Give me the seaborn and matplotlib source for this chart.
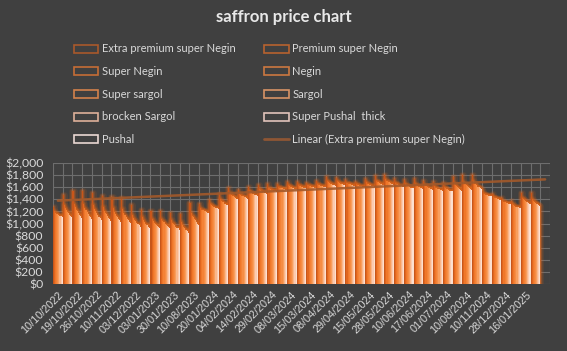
import numpy as np
import pandas as pd
import matplotlib
matplotlib.use("Agg")
import matplotlib.pyplot as plt
from matplotlib.patches import Patch
from matplotlib.lines import Line2D
import seaborn as sns

# labels shown on every second category
tick_labels = ['10/10/2022', '19/10/2022', '26/10/2022', '10/11/2022', '03/12/2022',
               '03/01/2023', '30/01/2023', '10/08/2023', '20/01/2024', '04/02/2024',
               '14/02/2024', '29/02/2024', '08/03/2024', '15/03/2024', '08/04/2024',
               '29/04/2024', '15/05/2024', '28/05/2024', '10/06/2024', '17/06/2024',
               '01/07/2024', '10/08/2024', '10/11/2024', '28/12/2024', '16/01/2025']

grades = ['Extra premium super Negin', 'Premium super Negin', 'Super Negin', 'Negin',
          'Super sargol', 'Sargol', 'brocken Sargol', 'Super Pushal  thick', 'Pushal']

extra_premium_super_negin = [1270, 1470, 1530, 1530, 1500, 1460, 1440, 1420, 1300, 1230,
                             1200, 1210, 1180, 1150, 1340, 1320, 1390, 1480, 1580, 1560,
                             1600, 1630, 1650, 1660, 1680, 1690, 1670, 1700, 1770, 1750,
                             1720, 1690, 1740, 1780, 1800, 1740, 1720, 1730, 1700, 1680,
                             1670, 1770, 1800, 1800, 1530, 1480, 1420, 1370, 1500, 1500]
premium_super_negin = [1200, 1300, 1330, 1320, 1300, 1270, 1250, 1240, 1140, 1100,
                       1080, 1080, 1050, 1020, 1180, 1250, 1320, 1400, 1500, 1490,
                       1540, 1570, 1590, 1610, 1630, 1640, 1635, 1655, 1700, 1695,
                       1675, 1650, 1680, 1710, 1730, 1675, 1655, 1660, 1635, 1615,
                       1605, 1670, 1690, 1695, 1495, 1440, 1375, 1315, 1425, 1405]
super_negin = [1180, 1250, 1270, 1260, 1240, 1210, 1190, 1170, 1090, 1050,
               1040, 1040, 1010, 970, 1120, 1230, 1300, 1370, 1470, 1470,
               1520, 1550, 1570, 1595, 1615, 1625, 1620, 1640, 1680, 1680,
               1660, 1635, 1660, 1690, 1705, 1655, 1635, 1635, 1615, 1595,
               1585, 1630, 1655, 1660, 1480, 1425, 1360, 1300, 1400, 1375]
negin = [1160, 1220, 1230, 1220, 1200, 1170, 1150, 1140, 1060, 1030,
         1010, 1020, 990, 950, 1100, 1220, 1290, 1360, 1460, 1460,
         1505, 1535, 1560, 1585, 1605, 1615, 1615, 1630, 1670, 1670,
         1650, 1630, 1650, 1680, 1690, 1645, 1625, 1620, 1605, 1585,
         1575, 1615, 1635, 1645, 1475, 1420, 1350, 1290, 1385, 1355]
super_sargol = [1150, 1190, 1200, 1190, 1170, 1150, 1130, 1110, 1040, 1000,
                990, 1000, 970, 930, 1070, 1210, 1280, 1350, 1450, 1450,
                1495, 1525, 1550, 1580, 1600, 1610, 1610, 1625, 1660, 1660,
                1645, 1620, 1640, 1670, 1680, 1635, 1615, 1610, 1595, 1575,
                1565, 1600, 1620, 1630, 1470, 1415, 1345, 1280, 1375, 1345]
sargol = [1140, 1170, 1170, 1160, 1140, 1120, 1100, 1080, 1010, 980,
          970, 980, 950, 900, 1050, 1200, 1270, 1330, 1430, 1440,
          1485, 1515, 1540, 1570, 1590, 1600, 1605, 1620, 1650, 1650,
          1640, 1615, 1635, 1660, 1670, 1625, 1605, 1600, 1585, 1565,
          1555, 1580, 1605, 1610, 1465, 1405, 1340, 1270, 1360, 1330]
brocken_sargol = [1130, 1140, 1140, 1130, 1110, 1090, 1070, 1060, 990, 970,
                  960, 960, 930, 890, 1020, 1190, 1260, 1320, 1420, 1430,
                  1475, 1505, 1535, 1565, 1585, 1595, 1600, 1610, 1640, 1645,
                  1630, 1610, 1625, 1650, 1660, 1615, 1595, 1590, 1575, 1555,
                  1545, 1570, 1590, 1600, 1460, 1400, 1330, 1265, 1350, 1315]
super_pushal_thick = [1120, 1120, 1120, 1100, 1090, 1070, 1050, 1030, 970, 950,
                      940, 940, 920, 870, 1000, 1180, 1250, 1310, 1410, 1420,
                      1470, 1500, 1530, 1555, 1575, 1585, 1595, 1605, 1630, 1635,
                      1625, 1605, 1615, 1640, 1650, 1610, 1590, 1580, 1570, 1550,
                      1540, 1555, 1575, 1585, 1455, 1395, 1325, 1255, 1340, 1300]
pushal = [1110, 1100, 1090, 1080, 1060, 1040, 1020, 1010, 950, 930,
          920, 920, 900, 850, 980, 1170, 1240, 1300, 1400, 1410,
          1460, 1490, 1520, 1550, 1570, 1580, 1590, 1600, 1620, 1630,
          1620, 1600, 1610, 1630, 1640, 1600, 1580, 1570, 1560, 1540,
          1530, 1540, 1560, 1570, 1450, 1390, 1320, 1250, 1330, 1290]

series = [extra_premium_super_negin, premium_super_negin, super_negin, negin,
          super_sargol, sargol, brocken_sargol, super_pushal_thick, pushal]

bar_colors = ['#c8561a', '#e0661f', '#ef772a', '#f48236', '#f68d45',
              '#f89e5d', '#fab68a', '#fccbb0', '#fde0d0']
legend_colors = ['#a9592b', '#b8622f', '#c66d36', '#cc7840', '#d3824b',
                 '#d89466', '#deb09a', '#e2c4bb', '#ead8d3']
bg = '#404040'
txt = '#d9d9d9'

n_cat = len(pushal)
rows = []
for g, vals in zip(grades, series):
    for i, v in enumerate(vals):
        rows.append({'pos': i, 'grade': g, 'price': v})
df = pd.DataFrame(rows)
order = list(range(n_cat + 1))  # last slot is empty in the original sheet

sns.set_theme(style='dark')
plt.rcParams['font.family'] = ['Lato', 'DejaVu Sans']

fig = plt.figure(figsize=(5.67, 3.51), dpi=100, facecolor=bg)
ax = fig.add_axes([53 / 567, 1 - 284 / 351, 497 / 567, 121 / 351], facecolor=bg)

# soft glow under the bars
for lw, a in [(5, 0.12), (3, 0.2), (1.5, 0.3)]:
    sns.barplot(data=df, x='pos', y='price', hue='grade', order=order, hue_order=grades,
                palette=['#e0651a'] * 9, width=1, gap=0, saturation=1, errorbar=None,
                legend=False, alpha=a, edgecolor='#e0651a', linewidth=lw,
                joinstyle='round', ax=ax)

sns.barplot(data=df, x='pos', y='price', hue='grade', order=order, hue_order=grades,
            palette=bar_colors, width=1, gap=0, saturation=1, errorbar=None,
            legend=False, linewidth=0, ax=ax)

# linear trend of the top grade
xs = np.arange(n_cat)
k, b = np.polyfit(xs, extra_premium_super_negin, 1)
tx = np.array([0, n_cat])
ax.plot(tx, k * tx + b, color='#a3592a', lw=1.8, alpha=0.9, zorder=10)

ax.set_xlim(-0.5, n_cat + 0.5)
ax.set_ylim(0, 2000)
ax.set_yticks(range(0, 2001, 200))
ax.set_yticklabels([f'${v:,}' for v in range(0, 2001, 200)])
ax.set_xticks(range(0, n_cat, 2))
ax.set_xticklabels(tick_labels, rotation=45, ha='right', va='top',
                   rotation_mode='anchor', family='Liberation Sans', fontsize=7.8)
ax.set_xticks(np.arange(-0.5, n_cat + 1, 1), minor=True)
ax.set_xlabel('')
ax.set_ylabel('')
ax.tick_params(axis='y', colors=txt, labelsize=8.8, length=0, pad=7)
ax.tick_params(axis='x', colors=txt, length=0, pad=4, which='both')
ax.grid(False)
ax.grid(True, axis='y', which='major', color='#6e6e6e', lw=0.8)
ax.grid(True, axis='x', which='minor', color='#6e6e6e', lw=0.8)
ax.set_axisbelow(True)
for s in ax.spines.values():
    s.set_visible(False)

fig.text(0.5, 1 - 17 / 351, 'saffron price chart', ha='center', va='center',
         fontsize=12, fontweight='bold', color='#e8e8e8')

handles = [Patch(facecolor='none', edgecolor=c, linewidth=1.2) for c in legend_colors]
handles.append(Line2D([0], [0], color='#8e5634', lw=2))
labels = grades + ['Linear (Extra premium super Negin)']
idx = [0, 2, 4, 6, 8, 1, 3, 5, 7, 9]
fig.legend([handles[i] for i in idx], [labels[i] for i in idx], ncol=2,
           loc='upper left', bbox_to_anchor=(74 / 567, 1 - 43.5 / 351),
           frameon=False, fontsize=8, labelcolor=txt, handlelength=2.2,
           handleheight=0.7, handletextpad=0.3, labelspacing=1.05,
           columnspacing=2.6, borderpad=0, borderaxespad=0)

fig.savefig('out.png', dpi=100, facecolor=bg)
